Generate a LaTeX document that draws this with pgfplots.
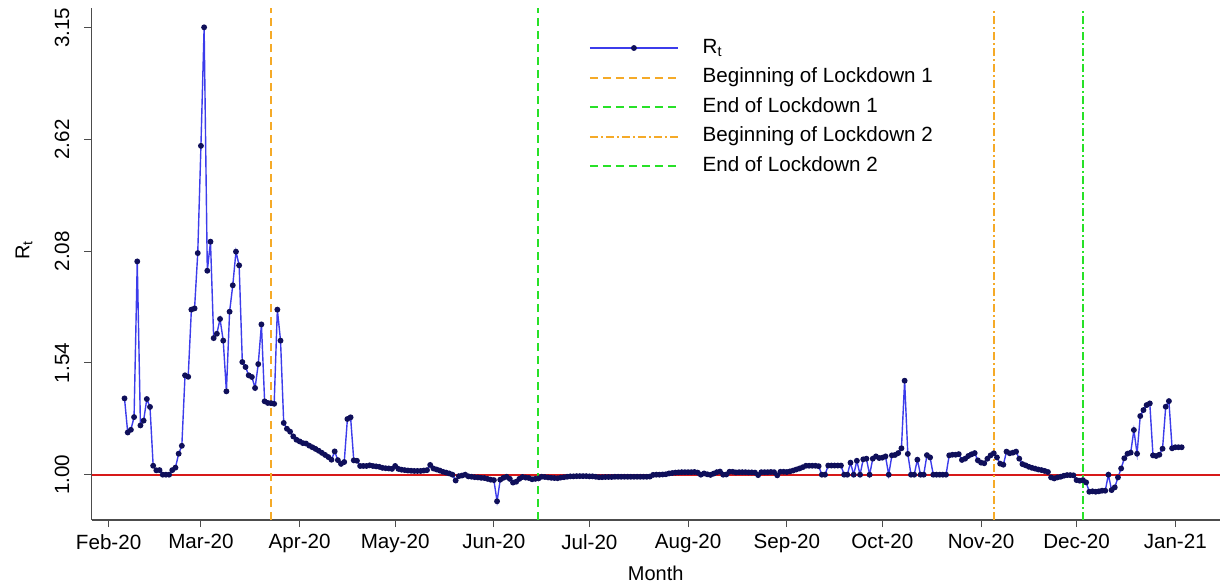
\documentclass[border=0pt]{standalone}
\usepackage{pgfplots}
\pgfplotsset{compat=1.18}
\usepackage{pgfplotstable}
\usepackage{fontspec}
\setmainfont{Liberation Sans}
\definecolor{lorange}{RGB}{245,170,40}
\definecolor{lgreen}{RGB}{40,225,40}
\definecolor{lblue}{RGB}{60,60,235}
\definecolor{lnavy}{RGB}{15,15,90}
\definecolor{lred}{RGB}{215,25,25}
\pgfplotstableread{
day R
5 1.367
6 1.203
7 1.216
8 1.277
9 2.026
10 1.237
11 1.260
12 1.364
13 1.326
14 1.043
15 1.021
16 1.022
17 1.000
18 1.000
19 1.000
20 1.022
21 1.034
22 1.101
23 1.139
24 1.478
25 1.471
26 1.794
27 1.800
28 2.066
29 2.582
30 3.152
31 1.981
32 2.121
33 1.657
34 1.678
35 1.749
36 1.645
37 1.401
38 1.784
39 1.911
40 2.073
41 2.007
42 1.542
43 1.518
44 1.478
45 1.470
46 1.417
47 1.532
48 1.723
49 1.353
50 1.345
51 1.344
52 1.341
53 1.794
54 1.645
55 1.249
56 1.221
57 1.207
58 1.184
59 1.168
60 1.160
61 1.152
62 1.150
63 1.140
64 1.132
65 1.124
66 1.115
67 1.105
68 1.095
69 1.085
70 1.072
71 1.112
72 1.070
73 1.052
74 1.061
75 1.268
76 1.276
77 1.069
78 1.067
79 1.042
80 1.042
81 1.042
82 1.045
83 1.042
84 1.040
85 1.038
86 1.033
87 1.031
88 1.030
89 1.028
90 1.042
91 1.028
92 1.024
93 1.022
94 1.020
95 1.019
96 1.018
97 1.018
98 1.018
99 1.020
100 1.022
101 1.047
102 1.030
103 1.025
104 1.020
105 1.014
106 1.010
107 1.006
108 1.000
109 0.972
110 0.993
111 0.996
112 1.000
113 0.992
114 0.990
115 0.988
116 0.987
117 0.985
118 0.984
119 0.980
120 0.976
121 0.974
122 0.872
123 0.976
124 0.985
125 0.990
126 0.980
127 0.962
128 0.966
129 0.980
130 0.989
131 0.986
132 0.984
133 0.978
134 0.980
135 0.982
136 0.990
137 0.989
138 0.987
139 0.985
140 0.984
141 0.983
142 0.986
143 0.988
144 0.990
145 0.992
146 0.992
147 0.993
148 0.993
149 0.993
150 0.993
151 0.992
152 0.992
153 0.990
154 0.988
155 0.988
156 0.989
157 0.989
158 0.989
159 0.990
160 0.990
161 0.990
162 0.990
163 0.990
164 0.990
165 0.990
166 0.990
167 0.990
168 0.990
169 0.990
170 0.991
171 0.999
172 1.000
173 1.000
174 1.001
175 1.002
176 1.006
177 1.008
178 1.010
179 1.011
180 1.012
181 1.012
182 1.012
183 1.012
184 1.013
185 1.010
186 1.000
187 1.006
188 1.002
189 0.999
190 1.005
191 1.012
192 1.015
193 1.000
194 1.001
195 1.014
196 1.014
197 1.011
198 1.012
199 1.012
200 1.012
201 1.011
202 1.011
203 1.010
204 0.998
205 1.012
206 1.012
207 1.012
208 1.013
209 1.012
210 0.997
211 1.014
212 1.014
213 1.013
214 1.016
215 1.020
216 1.025
217 1.030
218 1.036
219 1.043
220 1.043
221 1.043
222 1.043
223 1.041
224 1.000
225 1.000
226 1.044
227 1.044
228 1.044
229 1.044
230 1.044
231 1.000
232 1.000
233 1.058
234 1.000
235 1.067
236 1.000
237 1.074
238 1.077
239 1.000
240 1.077
241 1.088
242 1.080
243 1.082
244 1.088
245 1.000
246 1.093
247 1.095
248 1.104
249 1.127
250 1.452
251 1.100
252 1.000
253 1.000
254 1.072
255 1.000
256 1.000
257 1.094
258 1.083
259 1.000
260 1.000
261 1.000
262 1.000
263 1.000
264 1.093
265 1.096
266 1.096
267 1.099
268 1.071
269 1.077
270 1.090
271 1.098
272 1.104
273 1.069
274 1.058
275 1.055
276 1.077
277 1.093
278 1.103
279 1.083
280 1.053
281 1.048
282 1.111
283 1.103
284 1.106
285 1.111
286 1.077
287 1.051
288 1.045
289 1.038
290 1.033
291 1.029
292 1.025
293 1.022
294 1.018
295 1.013
296 0.987
297 0.982
298 0.987
299 0.990
300 0.995
301 0.998
302 0.998
303 0.997
304 0.974
305 0.971
306 0.974
307 0.963
308 0.918
309 0.920
310 0.918
311 0.920
312 0.923
313 0.923
314 1.000
315 0.926
316 0.939
317 0.987
318 1.030
319 1.079
320 1.101
321 1.106
322 1.215
323 1.101
324 1.282
325 1.311
326 1.335
327 1.343
328 1.093
329 1.090
330 1.096
331 1.125
332 1.327
333 1.354
334 1.127
335 1.132
336 1.132
337 1.132
}\rtdata
\begin{document}
\begin{tikzpicture}
\useasboundingbox (-45.75pt,-33pt) rectangle (564.25pt,260pt);
\begin{axis}[
  at={(0,0)}, anchor=south west, scale only axis,
  width=564.25pt, height=256pt,
  xmin=-5.37, xmax=349.05, ymin=0.782, ymax=3.245,
  axis x line=bottom, axis y line=left,
  axis line style={-, black!70, line width=0.6pt},
  xtick={0,29,60,90,121,151,182,213,243,274,304,335},
  xticklabels={Feb-20,Mar-20,Apr-20,May-20,Jun-20,Jul-20,Aug-20,Sep-20,Oct-20,Nov-20,Dec-20,Jan-21},
  ytick={1,1.5375,2.075,2.6125,3.15},
  yticklabels={1.00,1.54,2.08,2.62,3.15},
  tick align=outside, major tick length=3.5pt,
  tick style={black!70, line width=0.5pt},
  tick label style={font=\fontsize{10.3}{12}\selectfont, text=black},
  yticklabel style={rotate=90, anchor=south},
  yticklabel shift=4pt,
  xlabel={Month}, ylabel={R\textsubscript{t}},
  label style={font=\fontsize{10.3}{12}\selectfont},
  every axis x label/.style={at={(axis description cs:0.5,-0.1035)}, anchor=center},
  every axis y label/.style={at={(axis description cs:-0.0598,0.527)}, anchor=center, rotate=90},
  legend image code/.code={\draw[mark repeat=2,mark phase=2,#1] plot coordinates {(0pt,0pt) (22pt,0pt) (44pt,0pt)};},
  legend cell align=left,
  legend style={draw=none, fill=none, inner sep=0pt, outer sep=0pt,
    at={(axis description cs:0.4408,0.9414)}, anchor=north west,
    font=\fontsize{10.3}{12}\selectfont, row sep=4.75pt, column sep=11.85pt,
    nodes={inner sep=0pt, text height=7.5pt, text depth=2.5pt}},
]
\addplot[lblue, line width=0.7pt, mark=*, mark size=1.1pt, mark options={draw=lnavy, fill=lnavy}] table[x=day,y=R]{\rtdata};
\addlegendentry{R\textsubscript{t}}
\addplot[lred, line width=1pt, forget plot] coordinates {(-5.37,1) (349.05,1)};
\addplot[lorange, line width=1pt, dash pattern=on 4.2pt off 2.3pt] coordinates {(51,0.782) (51,3.245)};
\addlegendentry{Beginning of Lockdown 1}
\addplot[lgreen, line width=1pt, dash pattern=on 4.2pt off 2.3pt] coordinates {(135,0.782) (135,3.245)};
\addlegendentry{End of Lockdown 1}
\addplot[lorange, line width=1pt, dash pattern=on 4pt off 1.5pt on 1pt off 1.5pt] coordinates {(278,0.782) (278,3.245)};
\addlegendentry{Beginning of Lockdown 2}
\addplot[lgreen, line width=1pt, dash pattern=on 4pt off 1.5pt on 1pt off 1.5pt, legend image post style={dash pattern=on 4.2pt off 2.3pt}] coordinates {(306,0.782) (306,3.245)};
\addlegendentry{End of Lockdown 2}
\end{axis}
\end{tikzpicture}
\end{document}
